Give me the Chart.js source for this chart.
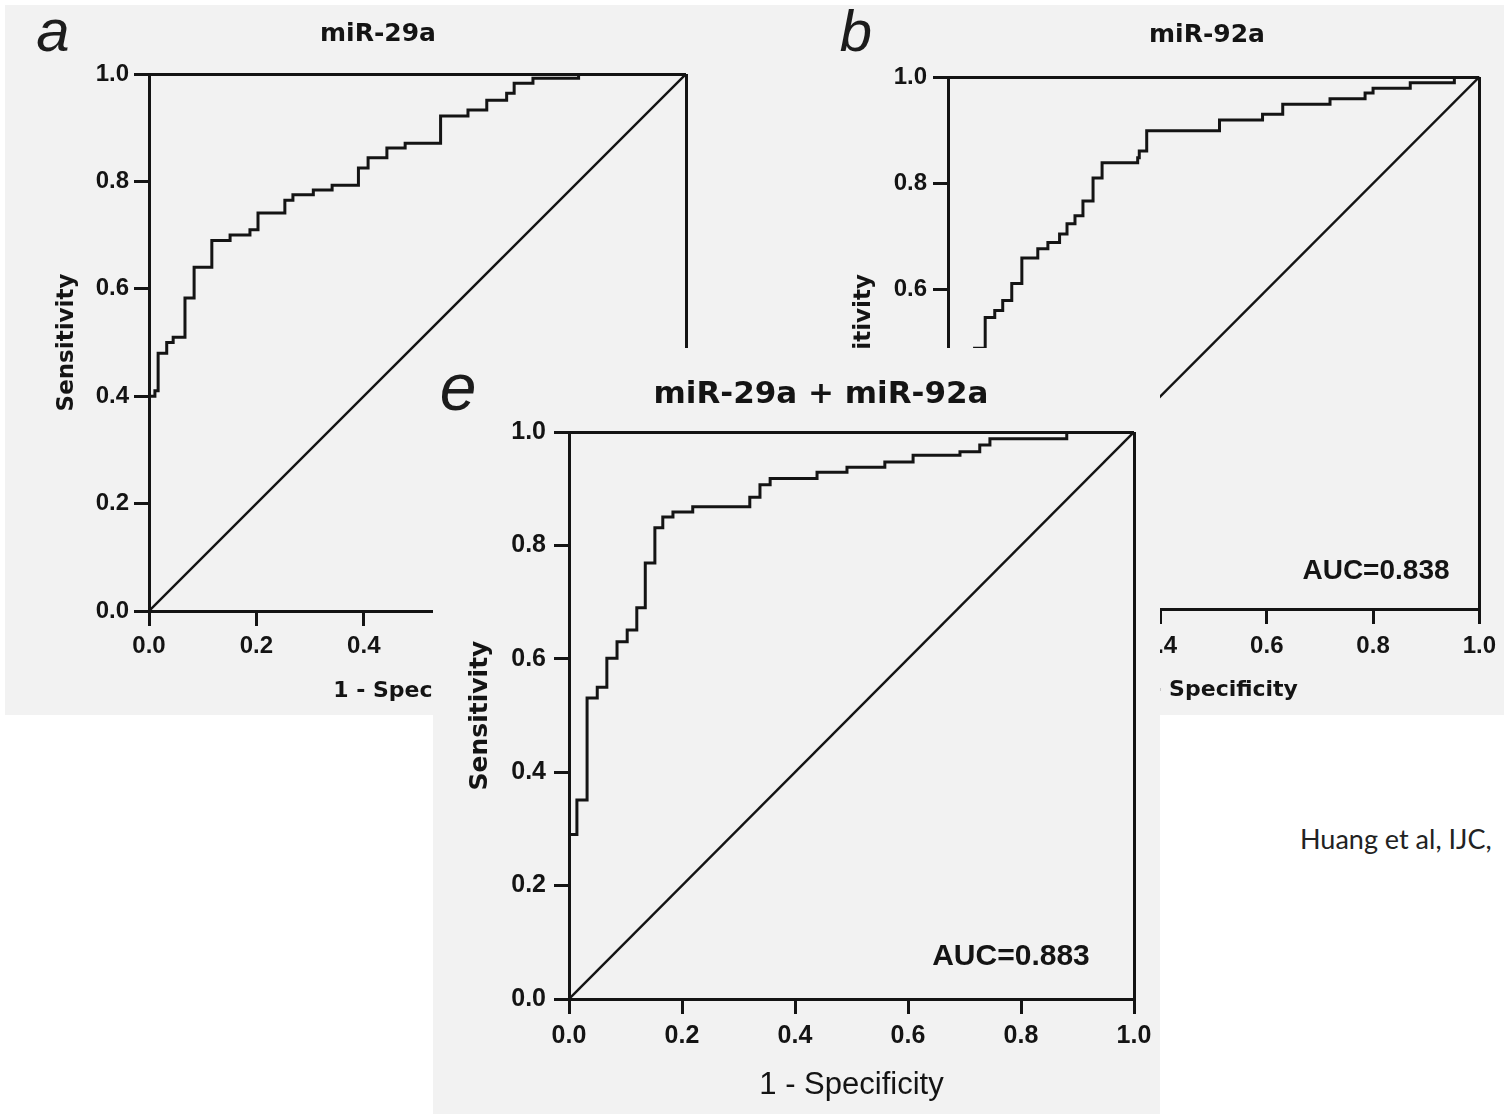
<!DOCTYPE html>
<html>
<head>
<meta charset="utf-8">
<title>ROC curves miR-29a / miR-92a</title>
<script src="https://cdn.jsdelivr.net/npm/chart.js@4.4.1/dist/chart.umd.min.js"></script>
<style>
  html, body { margin: 0; padding: 0; background: #fff; }
  body { position: relative; width: 1504px; height: 1114px; overflow: hidden; font-family: "Liberation Sans", Arial, sans-serif; color: #141414; }
  .bg { position: absolute; background: #f2f2f2; }
  .panel { position: absolute; }
  .panel canvas { display: block; }
  .lbl { position: absolute; transform: translate(-50%, -50%); white-space: nowrap; line-height: 1; }
  .letter { font-style: italic; font-weight: normal; color: #1c1c1c; }
  .title { font-family: "DejaVu Sans", sans-serif; font-weight: bold; }
  .auc { font-weight: bold; }
  .cite { position: absolute; left: 1300px; top: 822px; font-family: Lato, "Open Sans", sans-serif; font-size: 27px; color: #222; white-space: nowrap; }
</style>
</head>
<body>
<div class="bg" style="left:5px;top:5px;width:1499px;height:710px"></div>

<div class="panel" style="left:5px;top:5px;width:745px;height:710px"><canvas id="chartA" width="745" height="710"></canvas></div>
<div class="panel" style="left:800px;top:5px;width:704px;height:710px"><canvas id="chartB" width="704" height="710"></canvas></div>

<div class="lbl letter" style="left:53px;top:31px;font-size:60px">a</div>
<div class="lbl title" style="left:378px;top:32px;font-size:25px">miR-29a</div>
<div class="lbl letter" style="left:856px;top:31px;font-size:58px">b</div>
<div class="lbl title" style="left:1207px;top:33px;font-size:25px">miR-92a</div>
<div class="lbl auc" style="left:1376px;top:570px;font-size:28px">AUC=0.838</div>

<div class="panel bg" style="left:433px;top:348px;width:727px;height:766px;z-index:2">
  <canvas id="chartE" width="727" height="766"></canvas>
  <div class="lbl letter" style="left:25px;top:39px;font-size:66px">e</div>
  <div class="lbl title" style="left:388px;top:44px;font-size:31px">miR-29a + miR-92a</div>
  <div class="lbl auc" style="left:578px;top:607px;font-size:30px">AUC=0.883</div>
</div>

<div class="cite">Huang et al, IJC,</div>

<script>
// tick values shared by both axes of every panel
const axisTicks = [0, 0.2, 0.4, 0.6, 0.8, 1.0];

// reference line (chance)
const diagX = [0, 1];
const diagY = [0, 1];

// panel a - miR-29a (1 - specificity, sensitivity)
const fprA = [0, 0, 0.011, 0.017, 0.033, 0.045, 0.067, 0.084, 0.117, 0.151, 0.188, 0.203, 0.253, 0.268,
              0.306, 0.341, 0.390, 0.408, 0.443, 0.477, 0.543, 0.594, 0.629, 0.666, 0.680, 0.715, 0.800, 1];
const tprA = [0, 0.40, 0.41, 0.48, 0.50, 0.51, 0.583, 0.64, 0.69, 0.70, 0.71, 0.741, 0.765, 0.775,
              0.784, 0.793, 0.825, 0.844, 0.862, 0.871, 0.922, 0.933, 0.951, 0.964, 0.983, 0.992, 1.0, 1.0];

// panel b - miR-92a (lower part is hidden behind panel e, estimated)
const fprB = [0, 0, 0.015, 0.03, 0.05, 0.07, 0.088, 0.103, 0.12, 0.139, 0.169, 0.188, 0.21, 0.224, 0.239,
              0.254, 0.273, 0.29, 0.357, 0.36, 0.374, 0.511, 0.592, 0.63, 0.719, 0.785, 0.80, 0.87, 0.953, 1];
const tprB = [0, 0.25, 0.33, 0.41, 0.49, 0.548, 0.561, 0.58, 0.612, 0.66, 0.677, 0.689, 0.705, 0.724, 0.739,
              0.767, 0.81, 0.839, 0.848, 0.861, 0.899, 0.919, 0.93, 0.949, 0.959, 0.97, 0.979, 0.989, 1.0, 1.0];

// panel e - miR-29a + miR-92a
const fprE = [0, 0, 0.014, 0.032, 0.05, 0.067, 0.085, 0.103, 0.12, 0.135, 0.152, 0.166, 0.184,
              0.219, 0.32, 0.338, 0.356, 0.439, 0.492, 0.559, 0.609, 0.692, 0.727, 0.745, 0.881, 1];
const tprE = [0, 0.29, 0.351, 0.531, 0.55, 0.601, 0.63, 0.651, 0.69, 0.769, 0.831, 0.85, 0.859,
              0.868, 0.885, 0.907, 0.918, 0.929, 0.938, 0.947, 0.959, 0.965, 0.977, 0.988, 1.0, 1.0];

const ink = '#141414';

function pts(xs, ys) {
    return xs.map((x, i) => ({ x: x, y: ys[i] }));
}

// one ROC panel; g holds the box sizes so the plot lands where the figure has it
function rocChart(id, fpr, tpr, g) {
    const tickFont = { family: 'Liberation Sans', size: g.tick, weight: 'bold' };
    // only the line at 1.0 is drawn inside the plot: it closes the frame
    const frame = c => (c.tick && c.tick.value === 1 ? ink : 'rgba(0,0,0,0)');
    const lw = 3;

    return new Chart(document.getElementById(id), {
        type: 'line',
        data: {
            datasets: [
                { data: pts(fpr, tpr), stepped: 'before', borderColor: ink, borderWidth: 3, pointRadius: 0, fill: false },
                { data: pts(diagX, diagY), borderColor: ink, borderWidth: 2.4, pointRadius: 0, fill: false }
            ]
        },
        options: {
            responsive: false,
            animation: false,
            layout: { padding: { left: 0, top: g.top, right: g.right, bottom: 0 } },
            plugins: { legend: { display: false }, tooltip: { enabled: false } },
            scales: {
                x: {
                    type: 'linear', min: 0, max: 1,
                    afterBuildTicks: s => { s.ticks = axisTicks.map(v => ({ value: v })); },
                    afterFit: s => { s.height = g.xh; },
                    ticks: { callback: v => v.toFixed(1), font: tickFont, color: ink, padding: g.padX, maxRotation: 0, autoSkip: false },
                    grid: { color: frame, lineWidth: lw, tickColor: ink, tickWidth: lw, tickLength: 15 },
                    border: { color: ink, width: lw },
                    title: { display: true, text: '1 - Specificity', color: ink, font: g.xFont, padding: { top: 0, bottom: g.xPad } }
                },
                y: {
                    type: 'linear', min: 0, max: 1,
                    afterBuildTicks: s => { s.ticks = axisTicks.map(v => ({ value: v })); },
                    afterFit: s => { s.width = g.yw; },
                    ticks: { callback: v => v.toFixed(1), font: tickFont, color: ink, padding: g.padY, autoSkip: false },
                    grid: { color: frame, lineWidth: lw, tickColor: ink, tickWidth: lw, tickLength: 15 },
                    border: { color: ink, width: lw },
                    title: { display: true, text: 'Sensitivity', color: ink, font: g.yFont, padding: { top: g.yPad, bottom: 0 } }
                }
            }
        }
    });
}

const boldTitle = size => ({ family: 'DejaVu Sans', size: size, weight: 'bold' });

rocChart('chartA', fprA, tprA, {
    top: 69, right: 64, yw: 144, xh: 104, tick: 24, padX: 6, padY: 5,
    xFont: boldTitle(22), xPad: 11, yFont: boldTitle(23), yPad: 48
});

rocChart('chartB', fprB, tprB, {
    top: 72, right: 24, yw: 148, xh: 106, tick: 24, padX: 8, padY: 6,
    xFont: boldTitle(22), xPad: 12, yFont: boldTitle(23), yPad: 50
});

rocChart('chartE', fprE, tprE, {
    top: 84, right: 26, yw: 136, xh: 115, tick: 25, padX: 7, padY: 8,
    xFont: { family: 'Liberation Sans', size: 31, weight: 'normal' }, xPad: 10, yFont: boldTitle(25), yPad: 32
});
</script>
</body>
</html>
